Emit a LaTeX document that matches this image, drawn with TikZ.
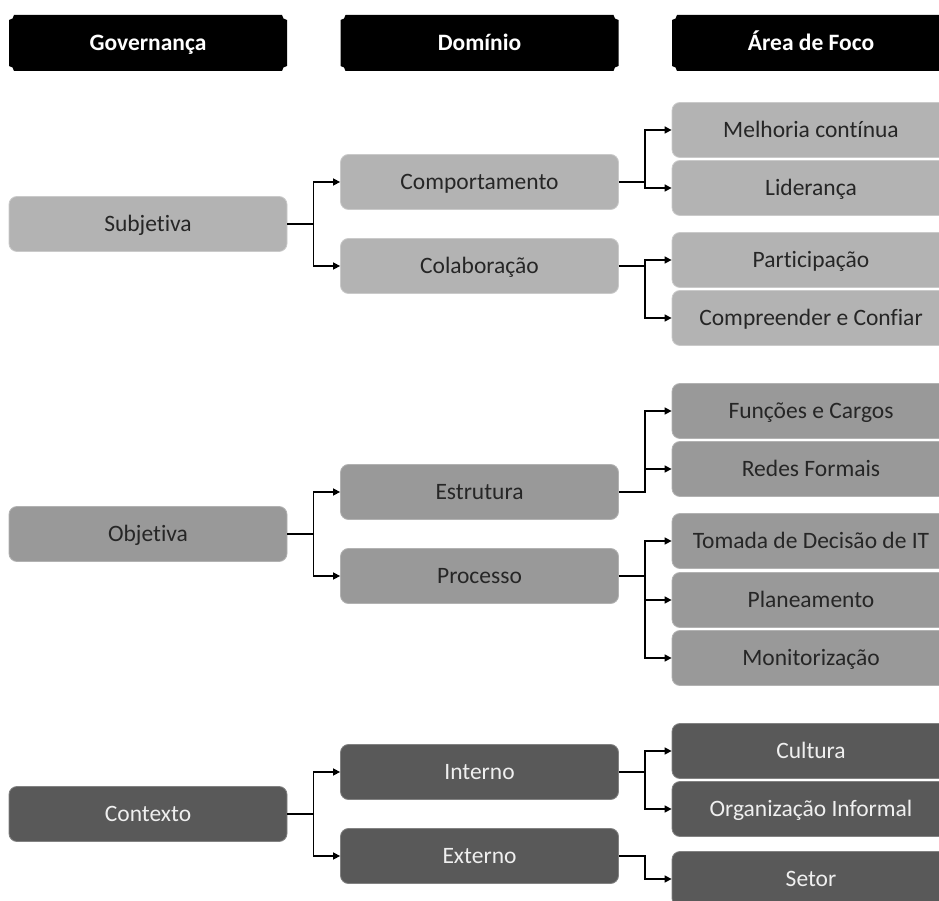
\documentclass[tikz,border=0pt]{standalone}
\usepackage{fontspec}
\setmainfont{Carlito}[Ligatures={NoCommon}]
\usetikzlibrary{arrows.meta}
\definecolor{lightgrp}{HTML}{B3B3B3}
\definecolor{midgrp}{HTML}{999999}
\definecolor{darkgrp}{HTML}{595959}
\definecolor{darktext}{HTML}{262626}
\definecolor{lighttext}{HTML}{EFEFEF}
\tikzset{
  x=1pt, y=1pt,
  box/.style={rectangle, rounded corners=8pt, minimum width=278pt, minimum height=55pt,
    inner sep=0pt, text height=15pt, text depth=0pt,
    font=\fontsize{23.5}{27}\selectfont, line width=0.8pt},
  lbox/.style={box, fill=lightgrp, draw=lightgrp!70!white, text=darktext},
  mbox/.style={box, fill=midgrp, draw=midgrp!75!white, text=darktext},
  dbox/.style={box, fill=darkgrp, draw=darkgrp!75!white, text=lighttext},
  plaque/.style={rectangle, minimum width=278pt, minimum height=56pt, inner sep=0pt,
    text height=15pt, text depth=0pt,
    text=white, font=\fontsize{23.5}{27}\selectfont\bfseries,
    path picture={
      \fill[black] ([xshift=5pt]path picture bounding box.south west)
        -- ([xshift=-5pt]path picture bounding box.south east)
        arc[start angle=180, end angle=90, radius=5pt]
        -- ([yshift=-5pt]path picture bounding box.north east)
        arc[start angle=270, end angle=180, radius=5pt]
        -- ([xshift=5pt]path picture bounding box.north west)
        arc[start angle=0, end angle=-90, radius=5pt]
        -- ([yshift=5pt]path picture bounding box.south west)
        arc[start angle=90, end angle=0, radius=5pt]
        -- cycle;
    }},
  link/.style={line width=1.5pt, -{Triangle[length=7pt, width=7pt]}},
}
\begin{document}
\begin{tikzpicture}
\clip (0,0) rectangle (939,900);
\fill[white] (0,0) rectangle (939,900);

% column headers
\node[plaque] (hgov) at (148,857) {Governança};
\node[plaque] (hdom) at (479.5,857) {Domínio};
\node[plaque] (hfoc) at (811,857) {Área de Foco};

% subjective branch
\node[lbox] (subj) at (148,676) {Subjetiva};
\node[lbox] (comp) at (479.5,718) {Comportamento};
\node[lbox] (cola) at (479.5,634) {Colaboração};
\node[lbox] (melh) at (811,770) {Melhoria contínua};
\node[lbox] (lide) at (811,712) {Liderança};
\node[lbox] (part) at (811,640) {Participação};
\node[lbox] (conf) at (811,582) {Compreender e Confiar};

% objective branch
\node[mbox] (obje) at (148,366) {Objetiva};
\node[mbox] (estr) at (479.5,408) {Estrutura};
\node[mbox] (proc) at (479.5,324) {Processo};
\node[mbox] (func) at (811,489) {Funções e Cargos};
\node[mbox] (rede) at (811,431) {Redes Formais};
\node[mbox] (toma) at (811,359) {Tomada de Decisão de IT};
\node[mbox] (plan) at (811,300) {Planeamento};
\node[mbox] (moni) at (811,242) {Monitorização};

% context branch
\node[dbox] (cont) at (148,86) {Contexto};
\node[dbox] (inte) at (479.5,128) {Interno};
\node[dbox] (exte) at (479.5,44) {Externo};
\node[dbox] (cult) at (811,149) {Cultura};
\node[dbox] (orgi) at (811,91) {Organização Informal};
\node[dbox] (seto) at (811,21) {Setor};

% connectors
\foreach \p/\c in {subj/comp, subj/cola, comp/melh, comp/lide, cola/part, cola/conf,
                   obje/estr, obje/proc, estr/func, estr/rede, proc/toma, proc/plan, proc/moni,
                   cont/inte, cont/exte, inte/cult, inte/orgi, exte/seto}
  \draw[link] (\p.east) -- ++(26,0) |- (\c.west);
\end{tikzpicture}
\end{document}
